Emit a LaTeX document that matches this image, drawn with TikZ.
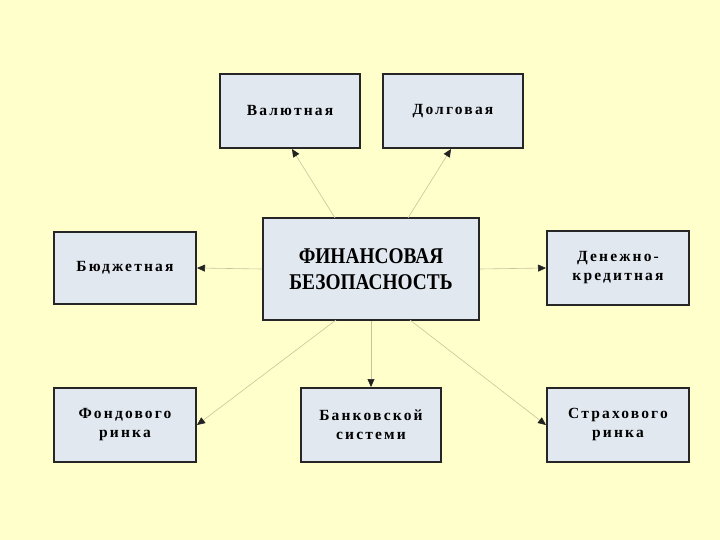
\documentclass[tikz,border=0pt]{standalone}
\usepackage{fontspec}
\setmainfont{Liberation Serif}
\newfontfamily\spaced[LetterSpace=14]{Liberation Serif}
\newfontfamily\titlefont[FakeStretch=0.86]{Liberation Serif}
\usetikzlibrary{arrows.meta}
\definecolor{bgc}{HTML}{FFFFCC}
\definecolor{boxc}{HTML}{E1E8F0}
\definecolor{linec}{HTML}{C8C49A}
\definecolor{tipc}{HTML}{222222}
\tikzset{
  box/.style={draw=black!85, line width=2pt, fill=boxc, minimum width=140pt, minimum height=74pt, align=center, inner sep=0pt, font=\spaced\bfseries\fontsize{15.5}{19}\selectfont},
  conn/.style={draw=linec, line width=0.6pt, -{Triangle[length=8pt,width=7pt,fill=tipc,color=tipc]}}
}
\begin{document}
\begin{tikzpicture}[x=1pt,y=-1pt]
\fill[bgc] (0,0) rectangle (720,540);
\useasboundingbox (0,0) rectangle (720,540);
\node[box] (val) at (290,111) {Валютная};
\node[box] (dolg) at (453,111) {Долговая};
\node[box, minimum width=216pt, minimum height=102pt, font=\titlefont\bfseries\fontsize{22.5}{26}\selectfont] (c) at (371,269) {ФИНАНСОВАЯ\\БЕЗОПАСНОСТЬ};
\node[box, minimum width=142pt, minimum height=72pt] (bud) at (125,268) {Бюджетная};
\node[box, minimum width=142pt] (den) at (618,268) {Денежно-\\кредитная};
\node[box, minimum width=142pt] (fond) at (125,425) {Фондового\\ринка};
\node[box] (bank) at (371,425) {Банковской\\системи};
\node[box, minimum width=142pt] (str) at (618,425) {Страхового\\ринка};
\coordinate (c1) at (335,218);
\coordinate (c2) at (408,218);
\coordinate (c3) at (336,320);
\coordinate (c4) at (410,320);
\draw[conn] (c1) -- (val.south -| 292,0);
\draw[conn] (c2) -- (dolg.south -| 451,0);
\draw[conn] (c.west) -- (bud.east);
\draw[conn] (c.east) -- (den.east -| den.west);
\draw[conn] (c.south) -- (bank.north);
\draw[conn] (c3) -- (fond.east);
\draw[conn] (c4) -- (str.west);
\end{tikzpicture}
\end{document}
